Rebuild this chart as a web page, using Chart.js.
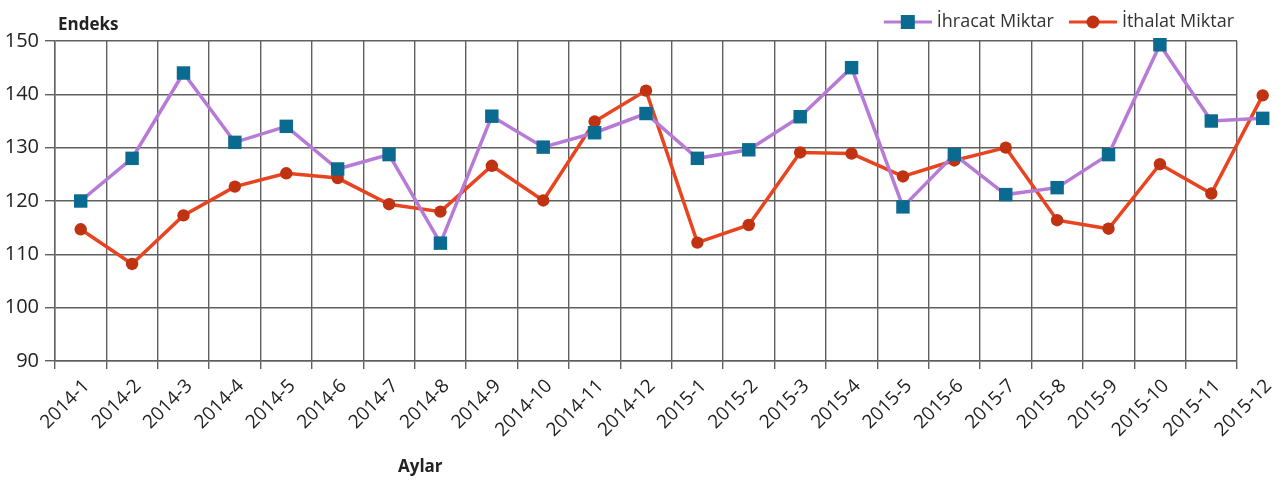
<!DOCTYPE html>
<html>
<head>
<meta charset="utf-8">
<script src="https://cdn.jsdelivr.net/npm/chart.js@4"></script>
<style>
  html, body { margin: 0; padding: 0; background: #fff; overflow: hidden; }
  #wrap { position: relative; width: 1283px; height: 484px; }
</style>
</head>
<body>
<div id="wrap"><canvas id="chart"></canvas></div>
<script>
  const months = [
    "2014-1", "2014-2", "2014-3", "2014-4", "2014-5", "2014-6",
    "2014-7", "2014-8", "2014-9", "2014-10", "2014-11", "2014-12",
    "2015-1", "2015-2", "2015-3", "2015-4", "2015-5", "2015-6",
    "2015-7", "2015-8", "2015-9", "2015-10", "2015-11", "2015-12",
  ];
  const ihracat = [
    120, 128, 144, 131, 134, 126, 128.7, 112.1, 135.9, 130.1, 132.8, 136.4,
    128, 129.6, 135.8, 145, 118.9, 128.7, 121.2, 122.5, 128.7, 149.3, 135, 135.5,
  ];
  const ithalat = [
    114.7, 108.2, 117.3, 122.7, 125.2, 124.3, 119.4, 118, 126.6, 120.1, 134.9, 140.7,
    112.2, 115.5, 129.1, 128.9, 124.6, 127.6, 130, 116.4, 114.8, 126.9, 121.4, 139.8,
  ];
  const yTicks = [90, 100, 110, 120, 130, 140, 150];
  const seriesNames = ["İhracat Miktar", "İthalat Miktar"];
  const yName = "Endeks";
  const xName = "Aylar";

  const FONT = "'Open Sans', sans-serif";
  const purple = "#b77ad6";
  const teal = "#0b6a8f";
  const orange = "#e8441f";
  const rust = "#bf3212";

  function toPoints(arr) {
    return arr.map(function (v, i) { return { x: i, y: v }; });
  }

  // legend swatch: line with marker on it, like the original.
  // image is 64 wide, drawn centred in a 56 wide legend box
  function swatch(lineColor, markColor, shape) {
    const c = document.createElement("canvas");
    c.width = 64; c.height = 16;
    const g = c.getContext("2d");
    g.strokeStyle = lineColor;
    g.lineWidth = 3;
    g.beginPath(); g.moveTo(16, 8); g.lineTo(64, 8); g.stroke();
    g.fillStyle = markColor;
    if (shape === "rect") {
      g.fillRect(33, 1, 14, 14);
    } else {
      g.beginPath(); g.arc(40, 8, 6.5, 0, Math.PI * 2); g.fill();
    }
    return c;
  }
  const swatches = [swatch(purple, teal, "rect"), swatch(orange, rust, "circle")];

  const axisNames = {
    id: "axisNames",
    afterDraw(chart) {
      const ctx = chart.ctx;
      const a = chart.chartArea;
      ctx.save();
      ctx.font = "bold 17px " + FONT;
      ctx.fillStyle = "#222";
      ctx.textBaseline = "middle";
      ctx.textAlign = "left";
      ctx.fillText(yName, a.left + 3, a.top - 16);
      ctx.fillText(xName, a.left + 343, 467);
      ctx.restore();
    },
  };

  // the last month sits past the right grid edge in the original; draw its markers too
  const edgePoints = {
    id: "edgePoints",
    afterDatasetDraw(chart, args) {
      const a = chart.chartArea;
      const full = { left: 0, top: 0, right: chart.width, bottom: chart.height };
      args.meta.data.forEach(function (pt) {
        if (pt.x > a.right || pt.x < a.left) pt.draw(chart.ctx, full);
      });
    },
  };

  const gridColor = "#606060";

  new Chart(document.getElementById("chart"), {
    type: "line",
    data: {
      datasets: [
        {
          label: seriesNames[0],
          data: toPoints(ihracat),
          borderColor: purple,
          backgroundColor: teal,
          borderWidth: 3.5,
          pointStyle: "rect",
          pointRadius: 9.5,
          pointHoverRadius: 9.5,
          pointBorderWidth: 0,
          pointBackgroundColor: teal,
          tension: 0,
          clip: false,
        },
        {
          label: seriesNames[1],
          data: toPoints(ithalat),
          borderColor: orange,
          backgroundColor: rust,
          borderWidth: 3.5,
          pointStyle: "circle",
          pointRadius: 6.2,
          pointHoverRadius: 6.2,
          pointBorderWidth: 0,
          pointBackgroundColor: rust,
          tension: 0,
          clip: false,
        },
      ],
    },
    options: {
      responsive: true,
      maintainAspectRatio: false,
      animation: false,
      layout: { padding: { left: 0, right: 46, top: 0, bottom: 0 } },
      plugins: {
        legend: {
          position: "top",
          align: "end",
          labels: {
            usePointStyle: true,
            pointStyleWidth: 56,
            padding: 3,
            color: "#333",
            font: { family: FONT, size: 18 },
            generateLabels(chart) {
              const items = Chart.defaults.plugins.legend.labels.generateLabels(chart);
              items.forEach(function (it, i) { it.pointStyle = swatches[i]; });
              return items;
            },
          },
        },
        tooltip: { enabled: false },
      },
      scales: {
        x: {
          type: "linear",
          min: -0.5,
          max: 22.5,
          afterBuildTicks(s) {
            s.ticks = months.map(function (_, i) { return { value: i }; });
          },
          afterFit(s) {
            s.height = 123;
            s.paddingLeft = 0;
            s.paddingRight = 0;
          },
          ticks: {
            autoSkip: false,
            minRotation: 45,
            maxRotation: 45,
            padding: 6,
            labelOffset: 6,
            color: "#222",
            font: { family: FONT, size: 19 },
            callback(v) { return months[v]; },
          },
          grid: {
            offset: true,
            color: gridColor,
            lineWidth: 1.4,
            tickLength: 8,
            tickColor: gridColor,
          },
          border: { color: gridColor, width: 1.4 },
        },
        y: {
          min: 90,
          max: 150,
          afterBuildTicks(s) {
            s.ticks = yTicks.map(function (v) { return { value: v }; });
          },
          afterFit(s) {
            s.width = 55;
            s.paddingTop = 41;
          },
          ticks: {
            padding: 6,
            color: "#222",
            font: { family: FONT, size: 20 },
          },
          grid: {
            color: gridColor,
            lineWidth: 1.4,
            tickLength: 10,
            tickColor: gridColor,
          },
          border: { color: gridColor, width: 1.4 },
        },
      },
    },
    plugins: [axisNames, edgePoints],
  });
</script>
</body>
</html>
